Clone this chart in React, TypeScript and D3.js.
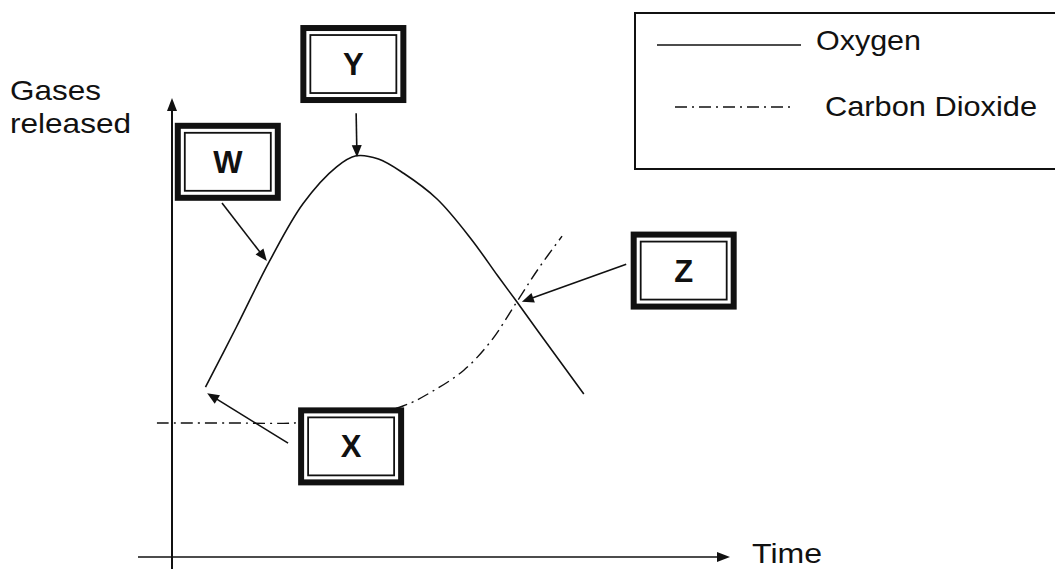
import React from "react";
import * as d3 from "d3";

// ---- data (time units 0..100, gas units 0..100) ----
const oxygenTime = [6, 11.5, 17.5, 23.5, 29.5, 33, 37, 41.5, 47.5, 53.6, 58.4, 61.8, 65.6, 73.8];
const oxygenValues = [37, 50, 64.5, 77, 85, 87.4, 86.7, 83.6, 78.0, 69.3, 61.2, 55.6, 49.2, 35.5];

const co2Time = [-2.7, 10, 22, 32, 41.4, 46.4, 52.3, 57.2, 61.8, 65.6, 69.9];
const co2Values = [29.2, 29.2, 29.2, 30.3, 32.9, 35.9, 40.7, 47.1, 55.6, 62.7, 69.9];

const legendLabels = ["Oxygen", "Carbon Dioxide"];
const yAxisLabel = ["Gases", "released"];
const xAxisLabel = "Time";

// annotation boxes (centres in data units) and their arrows
const annLabels = ["W", "X", "Y", "Z"];
const annCenterT = [10.0, 32.1, 32.5, 91.7];
const annCenterG = [86.1, 24.1, 107.4, 62.4];
const arrowFromT = [8.96, 20.8, 33.0, 81.4];
const arrowFromG = [77.1, 24.8, 96.7, 63.8];
const arrowToT = [17.0, 6.3, 33.15, 62.7];
const arrowToG = [64.5, 35.7, 87.1, 55.6];

const WIDTH = 1055;
const HEIGHT = 569;
const FONT = "'Liberation Sans', Arial, Helvetica, sans-serif";
const INK = "#111";

function arrowHead(fx: number, fy: number, tx: number, ty: number, len: number, hw: number) {
  const a = Math.atan2(ty - fy, tx - fx);
  const bx = tx - len * Math.cos(a);
  const by = ty - len * Math.sin(a);
  const px = -Math.sin(a) * hw;
  const py = Math.cos(a) * hw;
  return `${tx},${ty} ${bx + px},${by + py} ${bx - px},${by - py}`;
}

export default function App() {
  const x = d3.scaleLinear().domain([0, 100]).range([172, 730]);
  const y = d3.scaleLinear().domain([0, 100]).range([557, 98]);

  const line = d3
    .line<[number, number]>()
    .x((d) => x(d[0]))
    .y((d) => y(d[1]))
    .curve(d3.curveCatmullRom.alpha(0.5));

  const oxy = line(oxygenTime.map((t, i) => [t, oxygenValues[i]] as [number, number])) || "";
  const co2 = line(co2Time.map((t, i) => [t, co2Values[i]] as [number, number])) || "";

  const boxW = 106;
  const boxH = 78;
  const dash = "12,5,2,5";

  return (
    <svg
      width={WIDTH}
      height={HEIGHT}
      style={{ position: "absolute", left: 0, top: 0, background: "#fff" }}
      fontFamily={FONT}
    >
      <rect x={0} y={0} width={WIDTH} height={HEIGHT} fill="#fff" />

      {/* axes */}
      <line x1={x(0)} y1={HEIGHT} x2={x(0)} y2={y(100) + 8} stroke={INK} strokeWidth={2} />
      <polygon points={arrowHead(x(0), 200, x(0), y(100), 13, 5)} fill={INK} />
      <line x1={138} y1={y(0)} x2={x(100) - 8} y2={y(0)} stroke={INK} strokeWidth={1.6} />
      <polygon points={arrowHead(600, y(0), x(100), y(0), 13, 5)} fill={INK} />

      {/* axis labels */}
      {yAxisLabel.map((t, i) => (
        <text key={t} x={10} y={100 + i * 33} fontSize={28} fill={INK} textLength={i === 0 ? 91 : 121} lengthAdjust="spacingAndGlyphs">
          {t}
        </text>
      ))}
      <text x={752} y={563} fontSize={27} fill={INK} textLength={70} lengthAdjust="spacingAndGlyphs">
        {xAxisLabel}
      </text>

      {/* curves */}
      <path d={co2} fill="none" stroke={INK} strokeWidth={1.4} strokeDasharray={dash} />
      <path d={oxy} fill="none" stroke={INK} strokeWidth={1.6} />

      {/* annotation arrows */}
      {annLabels.map((lab, i) => {
        const fx = x(arrowFromT[i]);
        const fy = y(arrowFromG[i]);
        const tx = x(arrowToT[i]);
        const ty = y(arrowToG[i]);
        const a = Math.atan2(ty - fy, tx - fx);
        return (
          <g key={"arr" + lab}>
            <line x1={fx} y1={fy} x2={tx - 8 * Math.cos(a)} y2={ty - 8 * Math.sin(a)} stroke={INK} strokeWidth={1.6} />
            <polygon points={arrowHead(fx, fy, tx, ty, 12, 5)} fill={INK} />
          </g>
        );
      })}

      {/* annotation boxes */}
      {annLabels.map((lab, i) => {
        const cx = x(annCenterT[i]);
        const cy = y(annCenterG[i]);
        const x0 = cx - boxW / 2;
        const y0 = cy - boxH / 2;
        return (
          <g key={"box" + lab}>
            <rect x={x0 + 3} y={y0 + 3} width={boxW - 6} height={boxH - 6} fill="#fff" stroke={INK} strokeWidth={6} />
            <rect x={x0 + 10} y={y0 + 10} width={boxW - 20} height={boxH - 20} fill="#fff" stroke={INK} strokeWidth={1.8} />
            <text x={cx} y={cy + 11} fontSize={31} fontWeight="bold" textAnchor="middle" fill={INK}>
              {lab}
            </text>
          </g>
        );
      })}

      {/* legend */}
      <rect x={635} y={13} width={440} height={156} fill="none" stroke={INK} strokeWidth={2} />
      <line x1={657} y1={45} x2={801} y2={45} stroke={INK} strokeWidth={1.4} />
      <text x={816} y={50} fontSize={28} fill={INK} textLength={105} lengthAdjust="spacingAndGlyphs">
        {legendLabels[0]}
      </text>
      <line x1={675} y1={107} x2={790} y2={107} stroke={INK} strokeWidth={1.4} strokeDasharray={dash} />
      <text x={825} y={116} fontSize={28} fill={INK} textLength={212} lengthAdjust="spacingAndGlyphs">
        {legendLabels[1]}
      </text>
    </svg>
  );
}
